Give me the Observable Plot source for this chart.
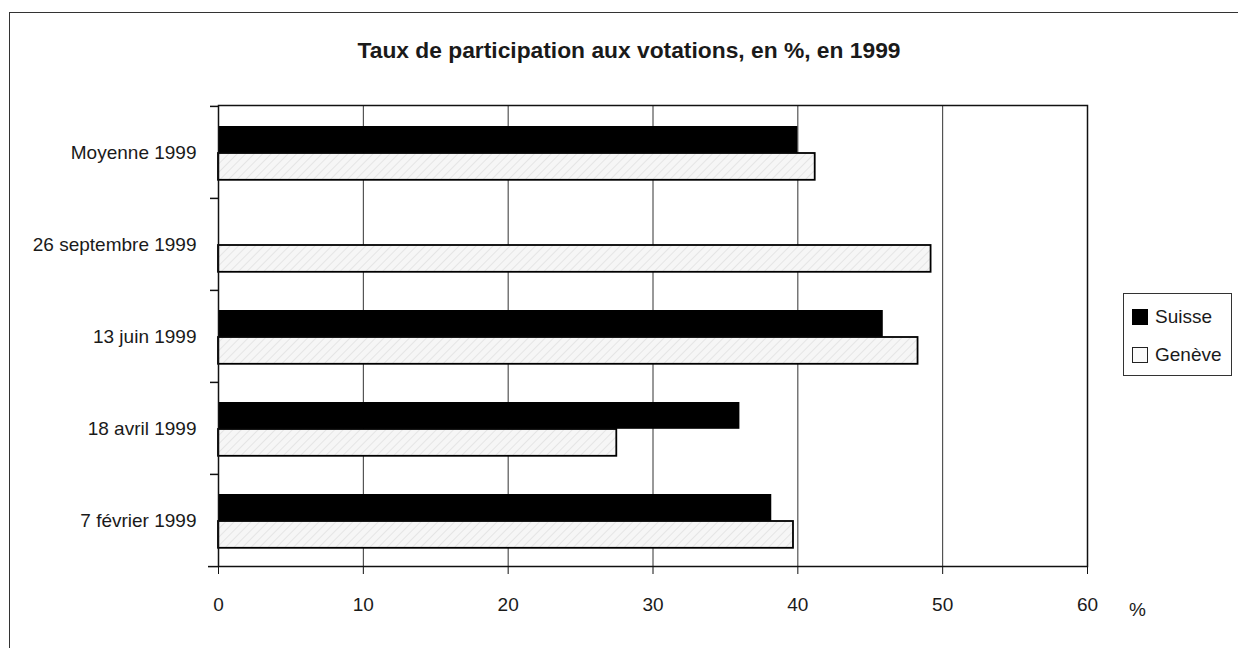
<!DOCTYPE html>
<html><head><meta charset="utf-8">
<script src="https://cdn.jsdelivr.net/npm/d3@7"></script>
<script src="https://cdn.jsdelivr.net/npm/@observablehq/plot@0.6"></script>
<style>
body{margin:0;background:#fff;font-family:"Liberation Sans",Arial,sans-serif;color:#1a1a1a;}
#wrap{position:relative;width:1238px;height:648px;overflow:hidden;}
#frame{position:absolute;left:9px;top:12px;width:1300px;height:700px;border:1.5px solid #333;box-sizing:border-box;}
#title{position:absolute;left:0;width:1258px;top:37px;text-align:center;font-weight:bold;font-size:22.8px;}
#chart{position:absolute;left:0;top:0;}
#legend{position:absolute;left:1123px;top:293px;width:109px;height:83px;border:1px solid #333;box-sizing:border-box;background:#fff;}
.item{position:absolute;left:8px;display:flex;align-items:center;font-size:19px;}
.sw{width:16px;height:16px;box-sizing:border-box;margin-right:7px;}
</style></head>
<body>
<div id="wrap">
  <div id="frame"></div>
  <div id="chart"></div>
  <div id="title"></div>
  <div id="legend"></div>
</div>
<script>
const titleText = "Taux de participation aux votations, en %, en 1999";
const categories = ["Moyenne 1999", "26 septembre 1999", "13 juin 1999", "18 avril 1999", "7 février 1999"];
const series = ["Suisse", "Genève"];
const suisse = [40.0, null, 45.9, 36.0, 38.2];
const geneve = [41.2, 49.2, 48.3, 27.5, 39.7];
const xTicks = [0, 10, 20, 30, 40, 50, 60];
const unitLabel = "%";

const W = 1238, H = 648, mL = 218, mR = 151, mT = 105, mB = 82;
const bw = (H - mT - mB) / categories.length;

const rowsS = categories.map((c, i) => ({cat: c, v: suisse[i]})).filter(d => d.v != null);
const rowsG = categories.map((c, i) => ({cat: c, v: geneve[i]})).filter(d => d.v != null);

document.getElementById("title").textContent = titleText;

const chart = Plot.plot({
  width: W, height: H,
  marginLeft: mL, marginRight: mR, marginTop: mT, marginBottom: mB,
  style: {fontFamily: "Liberation Sans, Arial, sans-serif", color: "#1a1a1a", background: "transparent"},
  x: {domain: [0, 60]},
  y: {domain: categories, padding: 0},
  marks: [
    Plot.ruleX(xTicks.slice(1, -1), {stroke: "#333", strokeWidth: 1}),
    Plot.barX(rowsS, {x: "v", y: "cat", fill: "#000", insetTop: 20, insetBottom: bw - 47}),
    Plot.barX(rowsG, {x: "v", y: "cat", fill: "url(#hatch)", stroke: "#000", strokeWidth: 1.8, insetTop: 47, insetBottom: bw - 74}),
    Plot.frame({stroke: "#111", strokeWidth: 1.5}),
    Plot.ruleY(categories, {y: d => d, x1: 0, x2: 0, insetLeft: -8, dy: -bw / 2, stroke: "#111", strokeWidth: 1.5}),
    Plot.ruleY(categories.slice(-1), {y: d => d, x1: 0, x2: 0, insetLeft: -10, dy: bw / 2, stroke: "#111", strokeWidth: 1.5}),
    Plot.axisY({tickSize: 0, tickPadding: 22, fontSize: 19, label: null}),
    Plot.axisX({ticks: xTicks, tickSize: 8, tickPadding: 23, fontSize: 19, label: null, stroke: "#111"}),
    Plot.text([unitLabel], {text: d => d, frameAnchor: "bottom-right", textAnchor: "middle", lineAnchor: "middle", dx: 50, dy: 43, fontSize: 19})
  ]
});

const svg = d3.select(chart);
const defs = svg.insert("defs", ":first-child");
const pat = defs.append("pattern").attr("id", "hatch").attr("patternUnits", "userSpaceOnUse")
  .attr("width", 6).attr("height", 6).attr("patternTransform", "rotate(45)");
pat.append("rect").attr("width", 6).attr("height", 6).attr("fill", "#f6f6f6");
pat.append("line").attr("x1", 0).attr("y1", 0).attr("x2", 0).attr("y2", 6).attr("stroke", "#e0e0e0").attr("stroke-width", 1.5);
document.getElementById("chart").appendChild(chart);

const legend = document.getElementById("legend");
series.forEach((s, i) => {
  const it = document.createElement("div");
  it.className = "item";
  it.style.top = (i === 0 ? 12 : 50) + "px";
  const sw = document.createElement("div");
  sw.className = "sw";
  if (i === 0) { sw.style.background = "#000"; }
  else { sw.style.background = "#fafafa"; sw.style.border = "1.5px solid #222"; }
  it.appendChild(sw);
  const t = document.createElement("span");
  t.textContent = s;
  it.appendChild(t);
  legend.appendChild(it);
});
</script>
</body></html>
